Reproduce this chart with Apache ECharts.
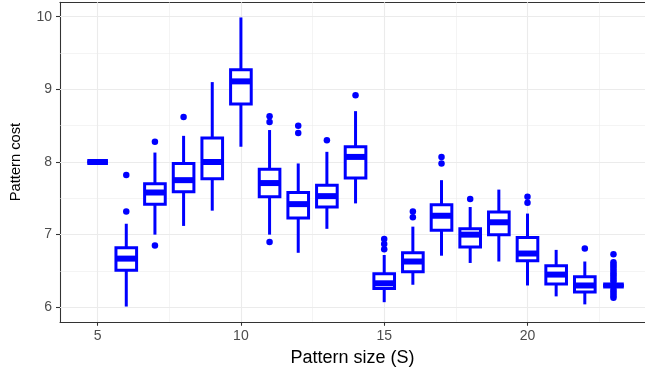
<!DOCTYPE html>
<html>
<head>
<meta charset="utf-8">
<script src="https://cdn.jsdelivr.net/npm/echarts@6/dist/echarts.min.js"></script>
<style>
  html, body { margin: 0; padding: 0; background: #fff; }
  #chart { width: 645px; height: 375px; }
</style>
</head>
<body>
<div id="chart"></div>
<script>
// Pattern sizes (S) and the five-number summary of the pattern cost for each size
const sizes        = [5, 6, 7, 8, 9, 10, 11, 12, 13, 14, 15, 16, 17, 18, 19, 20, 21, 22, 23];
const lowerWhisker = [8.00, 6.01, 7.00, 7.12, 7.33, 8.21, 7.00, 6.75, 7.08, 7.43, 6.07, 6.31, 6.71, 6.61, 6.63, 6.30, 6.15, 6.04, 6.30];
const lowerHinge   = [8.00, 6.51, 7.42, 7.59, 7.77, 8.80, 7.52, 7.23, 7.38, 7.78, 6.26, 6.49, 7.06, 6.83, 7.00, 6.64, 6.32, 6.21, 6.30];
const medians      = [8.00, 6.67, 7.58, 7.75, 8.00, 9.11, 7.71, 7.42, 7.53, 8.07, 6.33, 6.63, 7.26, 7.00, 7.17, 6.74, 6.45, 6.30, 6.30];
const upperHinge   = [8.00, 6.82, 7.70, 7.98, 8.33, 9.27, 7.90, 7.58, 7.68, 8.21, 6.46, 6.75, 7.41, 7.08, 7.31, 6.96, 6.57, 6.42, 6.30];
const upperWhisker = [8.00, 7.15, 8.13, 8.36, 9.10, 9.99, 8.44, 7.98, 8.14, 8.70, 6.72, 7.11, 7.75, 7.38, 7.62, 7.29, 6.79, 6.63, 6.30];
const outliers = [
  [],
  [7.32, 7.82],
  [8.28, 6.85],
  [8.62],
  [],
  [],
  [8.63, 8.55, 6.90],
  [8.50, 8.40],
  [8.30],
  [8.92],
  [6.80, 6.87, 6.94],
  [7.24, 7.32],
  [7.98, 8.07],
  [7.49],
  [],
  [7.44, 7.52],
  [],
  [6.81],
  [6.13, 6.16, 6.19, 6.22, 6.25, 6.35, 6.38, 6.41, 6.44, 6.47, 6.50, 6.53, 6.56, 6.59, 6.62, 6.73]
];

// Axis tick labels and grid positions
const xTicks = [5, 10, 15, 20];
const xMinorGrid = [7.5, 12.5, 17.5, 22.5];
const yTicks = [6, 7, 8, 9, 10];
const yMinorGrid = [6.5, 7.5, 8.5, 9.5];

const BLUE = '#0000FF';
const BOX_WIDTH = 0.72;
const FONT = '"Liberation Sans", Arial, sans-serif';
const X_MIN = 3.6875, X_MAX = 24.1, Y_MIN = 5.8, Y_MAX = 10.2;

const boxData = sizes.map((s, i) => [s, lowerWhisker[i], lowerHinge[i], medians[i], upperHinge[i], upperWhisker[i]]);
const outlierData = [];
sizes.forEach((s, i) => outliers[i].forEach(v => outlierData.push([s, v])));

function renderBox(params, api) {
  const x = api.value(0);
  const pLo = api.coord([x, api.value(1)]);
  const pQ1 = api.coord([x, api.value(2)]);
  const pMed = api.coord([x, api.value(3)]);
  const pQ3 = api.coord([x, api.value(4)]);
  const pHi = api.coord([x, api.value(5)]);
  const half = api.size([BOX_WIDTH, 0])[0] / 2;
  const cx = pMed[0];
  const line = { stroke: BLUE, lineWidth: 3, lineCap: 'butt' };
  return {
    type: 'group',
    children: [
      { type: 'line', shape: { x1: cx, y1: pHi[1], x2: cx, y2: pQ3[1] }, style: line },
      { type: 'line', shape: { x1: cx, y1: pQ1[1], x2: cx, y2: pLo[1] }, style: line },
      { type: 'rect', shape: { x: cx - half, y: pQ3[1], width: 2 * half, height: pQ1[1] - pQ3[1] },
        style: { fill: '#ffffff', stroke: BLUE, lineWidth: 3, lineJoin: 'miter' } },
      { type: 'line', shape: { x1: cx - half, y1: pMed[1], x2: cx + half, y2: pMed[1] },
        style: { stroke: BLUE, lineWidth: 6, lineCap: 'butt' } }
    ]
  };
}

const gridLine = (w) => ({ color: '#EBEBEB', width: w, type: 'solid' });
const markLines = []
  .concat(xMinorGrid.map(v => ({ xAxis: v, lineStyle: gridLine(0.55) })))
  .concat(yMinorGrid.map(v => ({ yAxis: v, lineStyle: gridLine(0.55) })))
  .concat(xTicks.map(v => ({ xAxis: v, lineStyle: gridLine(1.1) })))
  .concat(yTicks.map(v => ({ yAxis: v, lineStyle: gridLine(1.1) })));

const frameLine = { show: true, lineStyle: { color: '#333333', width: 1.07 } };

const chart = echarts.init(document.getElementById('chart'), null, { renderer: 'canvas' });
chart.setOption({
  animation: false,
  backgroundColor: '#ffffff',
  grid: { left: 57.7, right: 0, top: 2.2, bottom: 53.2 },
  xAxis: [
    {
      type: 'value', min: X_MIN, max: X_MAX, position: 'bottom',
      axisLine: frameLine,
      splitLine: { show: false },
      axisTick: { show: true, customValues: xTicks, length: 4, lineStyle: { color: '#333333', width: 1.07 } },
      axisLabel: { customValues: xTicks, color: '#4D4D4D', fontSize: 14, fontFamily: FONT, margin: 7 },
      name: 'Pattern size (S)', nameLocation: 'middle', nameGap: 27,
      nameTextStyle: { color: '#000000', fontSize: 18, fontFamily: FONT }
    },
    {
      // top edge of the panel frame
      type: 'value', min: X_MIN, max: X_MAX, position: 'top',
      axisLine: frameLine, axisTick: { show: false }, axisLabel: { show: false }, splitLine: { show: false }
    }
  ],
  yAxis: {
    type: 'value', min: Y_MIN, max: Y_MAX,
    axisLine: frameLine,
    splitLine: { show: false },
    axisTick: { show: true, customValues: yTicks, length: 4, lineStyle: { color: '#333333', width: 1.07 } },
    axisLabel: { customValues: yTicks, color: '#4D4D4D', fontSize: 14, fontFamily: FONT, margin: 8 },
    name: 'Pattern cost', nameLocation: 'middle', nameGap: 37,
    nameTextStyle: { color: '#000000', fontSize: 14.7, fontFamily: FONT }
  },
  series: [
    {
      type: 'scatter', data: [], z: 1, silent: true,
      markLine: { z: 1, silent: true, symbol: ['none', 'none'], label: { show: false }, animation: false, data: markLines }
    },
    {
      type: 'custom', data: boxData, z: 3, renderItem: renderBox,
      encode: { x: 0, y: [1, 2, 3, 4, 5] }
    },
    {
      type: 'scatter', data: outlierData, z: 4, symbol: 'circle', symbolSize: 6.5,
      itemStyle: { color: BLUE, opacity: 1 }
    }
  ]
});
</script>
</body>
</html>
